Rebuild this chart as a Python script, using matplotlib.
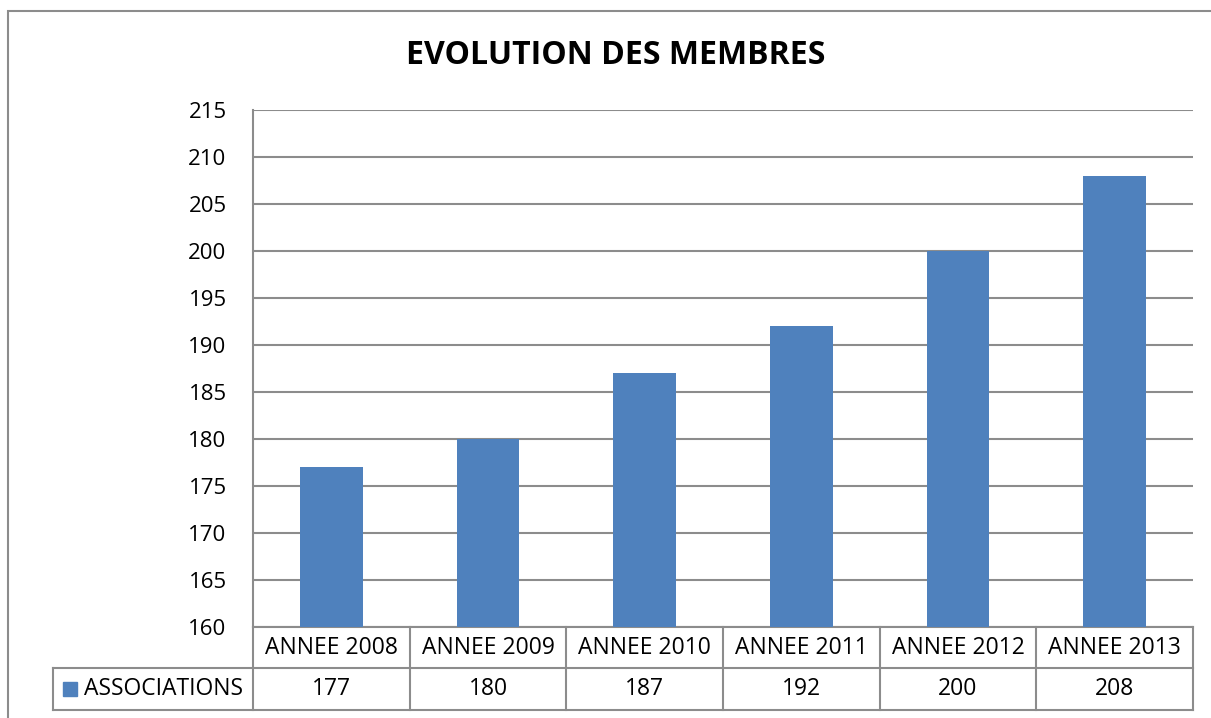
"""
Bar chart of member counts per year, with an Excel-style data table below.
"""

import matplotlib
matplotlib.use("Agg")
import matplotlib.pyplot as plt
from matplotlib.patches import Rectangle
from matplotlib.transforms import blended_transform_factory

# --- data ---
years = ["ANNEE 2008", "ANNEE 2009", "ANNEE 2010", "ANNEE 2011", "ANNEE 2012", "ANNEE 2013"]
associations = [177, 180, 187, 192, 200, 208]
series_name = "ASSOCIATIONS"
title = "EVOLUTION DES MEMBRES"

BLUE = "#4F81BD"
GRID = "#8C8C8C"
W, H = 1211, 718
FS = 16.5

plt.rcParams["font.family"] = ["Open Sans", "DejaVu Sans"]

fig = plt.figure(figsize=(W / 100, H / 100), dpi=100)

# outer chart frame (right and bottom edges fall outside the picture)
fig.patches.append(Rectangle((8 / W, -0.05), 1.2, 1 - 11 / H + 0.05,
                             transform=fig.transFigure, fill=False,
                             edgecolor=GRID, linewidth=1.5))

# plot area in pixels: left 253, right 1193, top 110, bottom 627
ax = fig.add_axes([253 / W, 1 - 627 / H, 940 / W, 517 / H])

x = range(len(years))
ax.bar(x, associations, width=0.4, color=BLUE, zorder=3)

ax.set_xlim(-0.5, len(years) - 0.5)
ax.set_ylim(160, 215)
ax.set_yticks(range(160, 216, 5))
ax.set_xticks([])
ax.grid(axis="y", color=GRID, linewidth=1.5, zorder=0)
ax.tick_params(axis="y", length=0, pad=19, labelsize=16)

for side in ["top", "right", "bottom"]:
    ax.spines[side].set_visible(False)
ax.spines["left"].set_color(GRID)
ax.spines["left"].set_linewidth(1.5)

fig.text(616 / W, 1 - 56 / H, title, ha="center", va="center",
         fontsize=23, fontweight="bold")

# --- data table ---
tr = blended_transform_factory(ax.transData, ax.transAxes)
row1 = -41 / 517   # bottom of header row
row2 = -83 / 517   # bottom of value row
px = 940 / len(years)   # pixels per category
left_cell = -0.5 - 200 / px   # legend cell left edge in data units

line_kw = dict(color=GRID, linewidth=1.5, transform=tr, clip_on=False)
ax.plot([-0.5, len(years) - 0.5], [0, 0], **line_kw)
ax.plot([left_cell, len(years) - 0.5], [row1, row1], **line_kw)
ax.plot([left_cell, len(years) - 0.5], [row2, row2], **line_kw)
ax.plot([left_cell, left_cell], [row1, row2], **line_kw)
for k in range(len(years) + 1):
    ax.plot([k - 0.5, k - 0.5], [0, row2], **line_kw)

for i, (label, val) in enumerate(zip(years, associations)):
    ax.text(i, row1 / 2, label, transform=tr, ha="center", va="center", fontsize=FS)
    ax.text(i, (row1 + row2) / 2, str(val), transform=tr, ha="center", va="center", fontsize=FS)

# legend key + series name
key_x = left_cell + 10 / px
ax.add_patch(Rectangle((key_x, (row1 + row2) / 2 - 7 / 517), 14 / px, 14 / 517,
                       transform=tr, color=BLUE, clip_on=False))
ax.text(key_x + 21 / px, (row1 + row2) / 2, series_name, transform=tr,
        ha="left", va="center", fontsize=FS)

fig.savefig("out.png", dpi=100)
